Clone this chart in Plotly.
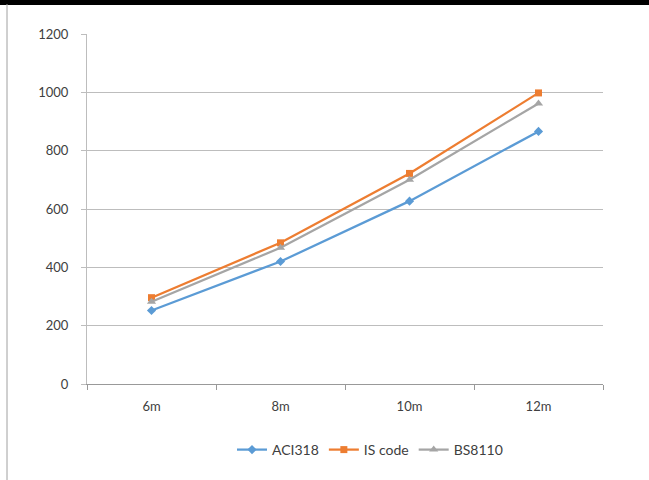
import plotly.graph_objects as go

# Span lengths and the three code results
spans = ["6m", "8m", "10m", "12m"]
aci318 = [252, 420, 627, 866]
is_code = [296, 484, 722, 998]
bs8110 = [282, 467, 700, 962]

series = [
    ("ACI318", aci318, "#5B9BD5", "diamond", 7),
    ("IS code", is_code, "#ED7D31", "square", 7),
    ("BS8110", bs8110, "#A5A5A5", "triangle-up", 8),
]

fig = go.Figure()
for name, vals, color, symbol, size in series:
    fig.add_trace(go.Scatter(
        x=spans, y=vals, name=name, mode="lines+markers",
        line=dict(color=color, width=2.25),
        marker=dict(symbol=symbol, size=size, color=color),
    ))

W, H = 649, 480
L, R, T, B = 87, 46, 34, 96
pw, ph = W - L - R, H - T - B

def px_x(p):
    return (p - L) / pw

def px_y(p):
    return (H - B - p) / ph

fig.update_layout(
    width=W, height=H,
    margin=dict(l=L, r=R, t=T, b=B),
    paper_bgcolor="white", plot_bgcolor="white",
    font=dict(family="Lato, 'Liberation Sans', sans-serif", size=13, color="#404040"),
    showlegend=True,
    legend=dict(orientation="h", x=px_x(370), xanchor="center",
                y=px_y(450), yanchor="middle", font=dict(size=14),
                itemwidth=30, tracegroupgap=0),
    xaxis=dict(
        type="category", tickson="boundaries", range=[-0.5, len(spans) - 0.5],
        showgrid=False, showline=True, linecolor="#999999", linewidth=1,
        ticks="outside", ticklen=5, tickcolor="#999999",
        ticklabelstandoff=10, zeroline=False,
    ),
    yaxis=dict(
        range=[0, 1200], dtick=200, tick0=0,
        showgrid=True, gridcolor="#BDBDBD", gridwidth=1,
        showline=True, linecolor="#BDBDBD", linewidth=1,
        ticks="outside", ticklen=5, tickcolor="#BDBDBD",
        ticklabelstandoff=10, zeroline=False,
    ),
    shapes=[
        # dark band across the top edge
        dict(type="rect", xref="paper", yref="paper",
             x0=px_x(0), x1=px_x(W), y0=px_y(5), y1=px_y(0),
             fillcolor="black", line=dict(width=0), layer="above"),
        # thin border line along the left side
        dict(type="line", xref="paper", yref="paper",
             x0=px_x(7), x1=px_x(7), y0=px_y(H), y1=px_y(4),
             line=dict(color="#A0A0A0", width=1)),
    ],
)

fig.write_html("out.html")
